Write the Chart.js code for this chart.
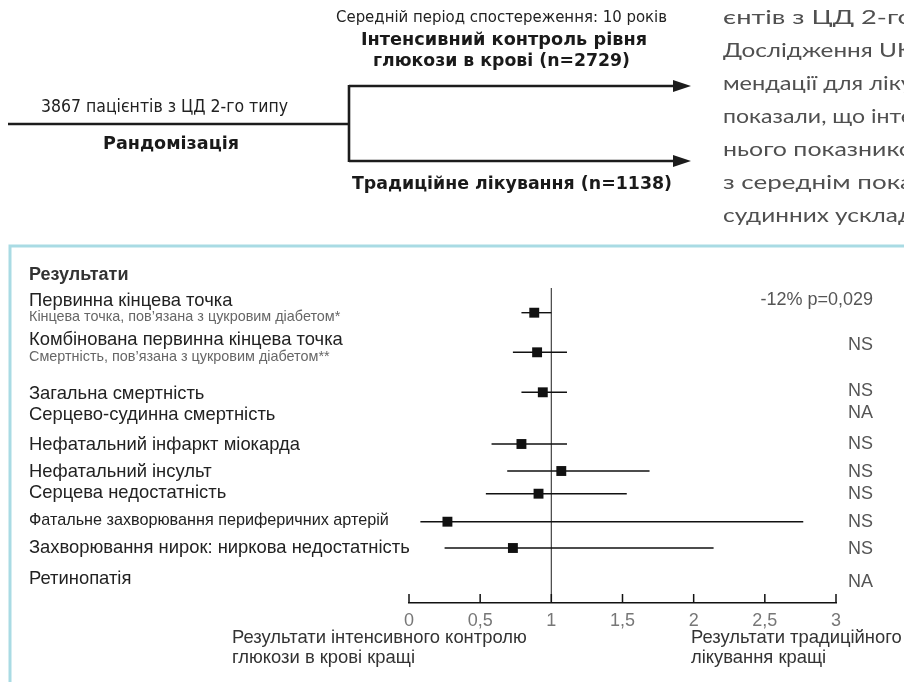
<!DOCTYPE html>
<html>
<head>
<meta charset="utf-8">
<script src="https://cdn.jsdelivr.net/npm/chart.js@4/dist/chart.umd.min.js"></script>
<style>
  html, body { margin: 0; padding: 0; background: #fff; }
  canvas { display: block; }
</style>
</head>
<body>
<canvas id="forest" width="904" height="682"></canvas>
<script>
// ---- data -------------------------------------------------------------
const outcomes = [
  'Первинна кінцева точка',
  'Комбінована первинна кінцева точка',
  'Загальна смертність',
  'Серцево-судинна смертність',
  'Нефатальний інфаркт міокарда',
  'Нефатальний інсульт',
  'Серцева недостатність',
  'Фатальне захворювання периферичних артерій',
  'Захворювання нирок: ниркова недостатність',
  'Ретинопатія'
];
const outcomeNotes = [
  'Кінцева точка, пов’язана з цукровим діабетом*',
  'Смертність, пов’язана з цукровим діабетом**',
  '', '', '', '', '', '', '', ''
];
const riskRatio = [0.88, 0.90, 0.94, null, 0.79, 1.07, 0.91, 0.27, 0.73, null];
const ciLow     = [0.79, 0.73, 0.79, null, 0.58, 0.69, 0.54, 0.08, 0.25, null];
const ciHigh    = [1.00, 1.11, 1.11, null, 1.11, 1.69, 1.53, 2.77, 2.14, null];
const significance = ['-12% p=0,029', 'NS', 'NS', 'NA', 'NS', 'NS', 'NS', 'NS', 'NS', 'NA'];
const tickValues = [0, 0.5, 1, 1.5, 2, 2.5, 3];
const tickLabels = ['0', '0,5', '1', '1,5', '2', '2,5', '3'];

// ---- layout (rows in y-scale units, 0 = top of plot) ------------------
const Y_MAX = 31.5;
const markerRows = [2.47, 6.43, 10.43, 12.5, 15.6, 18.3, 20.57, 23.37, 26.0, 29.1];
const labelRows  = [1.27, 5.2, 10.6, 12.7, 15.67, 18.37, 20.5, 23.3, 25.97, 29.1];
const noteRows   = [2.9, 6.87];
const statRows   = [1.2, 5.7, 10.27, 12.5, 15.6, 18.4, 20.6, 23.4, 26.1, 29.4];

const SANS = '"Liberation Sans", Arial, Helvetica, sans-serif';
const NARROW = '"Liberation Sans Narrow", "DejaVu Sans Condensed", "Liberation Sans", sans-serif';
const GEO = '"Lato", "Open Sans", sans-serif';

// draws text stretched/condensed to a given width, starting at its left edge
function fitText(ctx, text, left, y, width, font, color) {
  ctx.save();
  ctx.font = font;
  ctx.fillStyle = color;
  ctx.textAlign = 'left';
  ctx.textBaseline = 'middle';
  const w = ctx.measureText(text).width;
  ctx.translate(left, y);
  ctx.scale(width / w, 1);
  ctx.fillText(text, 0, 0);
  ctx.restore();
}

function plainText(ctx, text, x, y, font, color, align) {
  ctx.save();
  ctx.font = font;
  ctx.fillStyle = color;
  ctx.textAlign = align || 'left';
  ctx.textBaseline = 'middle';
  ctx.fillText(text, x, y);
  ctx.restore();
}

function arrow(ctx, x0, x1, y) {
  ctx.beginPath();
  ctx.moveTo(x0, y);
  ctx.lineTo(x1 - 16, y);
  ctx.stroke();
  ctx.beginPath();
  ctx.moveTo(x1, y);
  ctx.lineTo(x1 - 18, y - 6);
  ctx.lineTo(x1 - 18, y + 6);
  ctx.closePath();
  ctx.fill();
}

const decor = {
  id: 'decor',
  beforeDraw(chart) {
    const ctx = chart.ctx;
    ctx.save();
    ctx.fillStyle = '#fff';
    ctx.fillRect(0, 0, chart.width, chart.height);

    // randomisation scheme
    ctx.strokeStyle = '#1c1c1c';
    ctx.fillStyle = '#1c1c1c';
    ctx.lineWidth = 2.6;
    ctx.beginPath();
    ctx.moveTo(8, 124); ctx.lineTo(349, 124);
    ctx.moveTo(349, 85); ctx.lineTo(349, 162);
    ctx.stroke();
    arrow(ctx, 349, 691, 86);
    arrow(ctx, 349, 691, 161);

    fitText(ctx, 'Середній період спостереження: 10 років', 336, 18, 331, '16px ' + NARROW, '#222');
    fitText(ctx, 'Інтенсивний контроль рівня', 361, 40, 286, 'bold 18px ' + NARROW, '#1a1a1a');
    fitText(ctx, 'глюкози в крові (n=2729)', 373, 61, 257, 'bold 18px ' + NARROW, '#1a1a1a');
    fitText(ctx, '3867 пацієнтів з ЦД 2-го типу', 41, 108, 247, '17px ' + NARROW, '#222');
    fitText(ctx, 'Рандомізація', 103, 144, 136, 'bold 18px ' + NARROW, '#1a1a1a');
    fitText(ctx, 'Традиційне лікування (n=1138)', 352, 184, 320, 'bold 18px ' + NARROW, '#1a1a1a');

    // running text beside the scheme (continues past the right edge)
    const para = ['єнтів з ЦД 2-го', 'Дослідження UK', 'мендації для ліку', 'показали, що інте',
                  'нього показнико', 'з середнім пока', 'судинних усклад'];
    para.forEach((line, i) => {
      fitText(ctx, line, 723, 18 + i * 33, 190, '19px ' + GEO, '#505050');
    });

    // results panel frame
    ctx.strokeStyle = '#a9dbe4';
    ctx.lineWidth = 3;
    ctx.beginPath();
    ctx.moveTo(10, 684); ctx.lineTo(10, 246); ctx.lineTo(906, 246);
    ctx.stroke();
    ctx.restore();
  },
  afterDraw(chart) {
    const ctx = chart.ctx;
    const xs = chart.scales.x, ys = chart.scales.y;
    const axisY = chart.chartArea.bottom;

    // inward tick marks on the ratio axis
    ctx.save();
    ctx.strokeStyle = '#111';
    ctx.lineWidth = 1.5;
    ctx.beginPath();
    tickValues.forEach(v => {
      const px = xs.getPixelForValue(v);
      ctx.moveTo(px, axisY);
      ctx.lineTo(px, axisY - 9);
    });
    ctx.stroke();
    ctx.restore();

    // outcome names, notes and significance
    plainText(ctx, 'Результати', 29, 275, 'bold 18px ' + SANS, '#333');
    outcomes.forEach((name, i) => {
      const size = i === 7 ? 16.2 : 18.4;
      plainText(ctx, name, 29, ys.getPixelForValue(labelRows[i]), size + 'px ' + SANS, '#222');
      plainText(ctx, significance[i], 873, ys.getPixelForValue(statRows[i]), '18px ' + SANS, '#555', 'right');
    });
    outcomeNotes.forEach((note, i) => {
      if (note) plainText(ctx, note, 29, ys.getPixelForValue(noteRows[i]), '14.4px ' + SANS, '#666');
    });

    // axis captions
    plainText(ctx, 'Результати інтенсивного контролю', 232, 638, '18.4px ' + SANS, '#333');
    plainText(ctx, 'глюкози в крові кращі', 232, 658, '18.4px ' + SANS, '#333');
    plainText(ctx, 'Результати традиційного', 691, 638, '18.4px ' + SANS, '#333');
    plainText(ctx, 'лікування кращі', 691, 658, '18.4px ' + SANS, '#333');
  }
};

// ---- datasets ---------------------------------------------------------
const datasets = [];
datasets.push({
  label: 'RR = 1',
  data: [{ x: 1, y: 0 }, { x: 1, y: Y_MAX }],
  showLine: true, borderColor: '#444', borderWidth: 1.2, pointRadius: 0, order: 3
});
outcomes.forEach((name, i) => {
  if (riskRatio[i] === null) return;
  datasets.push({
    label: name,
    data: [{ x: ciLow[i], y: markerRows[i] }, { x: ciHigh[i], y: markerRows[i] }],
    showLine: true, borderColor: '#111', borderWidth: 1.4, pointRadius: 0, order: 2
  });
});
datasets.push({
  label: 'RR',
  data: outcomes.map((n, i) => riskRatio[i] === null ? null : { x: riskRatio[i], y: markerRows[i] })
               .filter(p => p !== null),
  pointStyle: 'rect', pointRadius: 7, backgroundColor: '#111', borderColor: '#111',
  borderWidth: 0, order: 1
});

new Chart(document.getElementById('forest'), {
  type: 'scatter',
  data: { datasets },
  plugins: [decor],
  options: {
    responsive: false,
    devicePixelRatio: 1,
    animation: false,
    layout: { padding: { left: 409, right: 68, top: 288, bottom: 0 } },
    plugins: { legend: { display: false }, tooltip: { enabled: false } },
    scales: {
      x: {
        type: 'linear', min: 0, max: 3, position: 'bottom',
        afterBuildTicks: s => { s.ticks = tickValues.map(v => ({ value: v })); },
        afterFit: s => { s.height = 79; },
        grid: { display: false, drawTicks: false },
        border: { display: true, color: '#111', width: 1.5 },
        ticks: {
          autoSkip: false, maxRotation: 0, padding: 7, color: '#777',
          font: { family: SANS, size: 18 },
          callback: v => tickLabels[tickValues.indexOf(v)]
        }
      },
      y: { type: 'linear', min: 0, max: Y_MAX, reverse: true, display: false }
    }
  }
});
</script>
</body>
</html>
